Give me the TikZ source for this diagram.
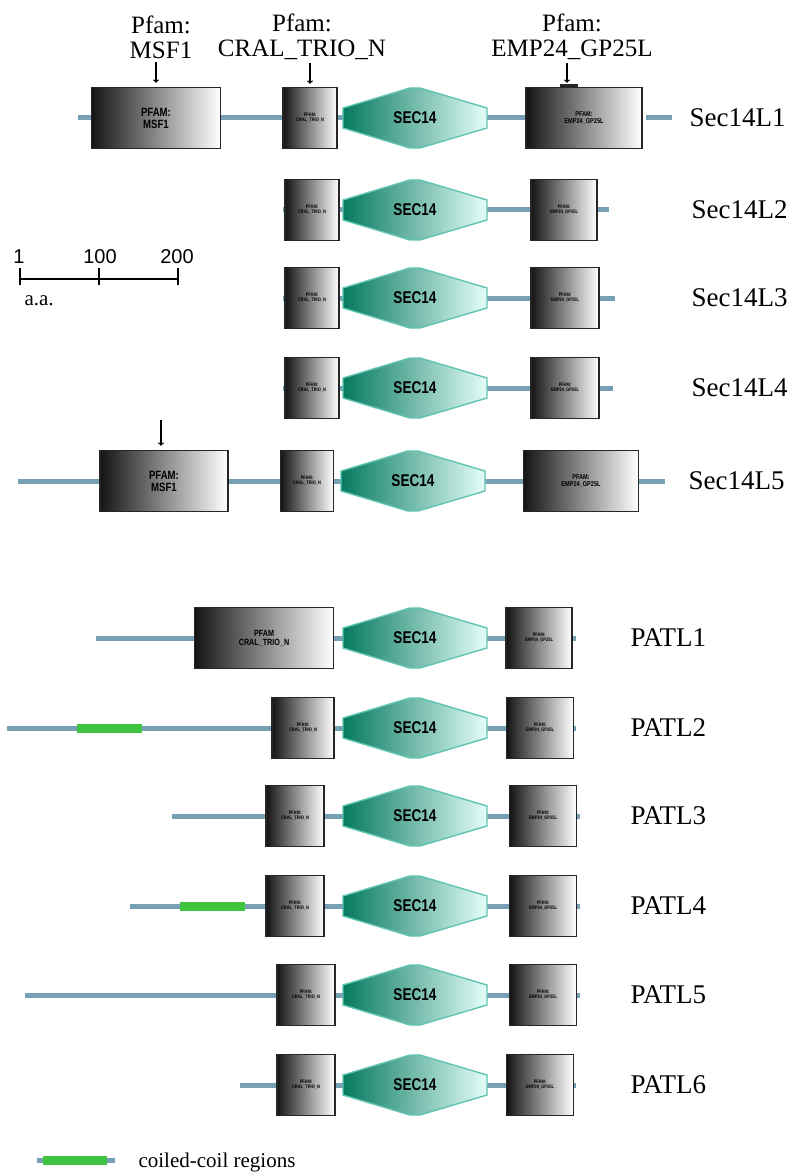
\documentclass[tikz,border=0pt]{standalone}
\usepackage{fontspec}
\setmainfont{Liberation Serif}
\newfontfamily\boxfont[FakeStretch=0.8]{Liberation Sans}
\newfontfamily\barfont{Liberation Sans}
\usetikzlibrary{shapes,backgrounds}

\definecolor{bbcol}{RGB}{118,160,180}
\definecolor{coilgreen}{RGB}{62,196,62}
\definecolor{hexdark}{RGB}{6,122,96}
\definecolor{hexlight}{RGB}{228,253,248}
\definecolor{hexedge}{RGB}{96,196,176}

\tikzset{
  backbone/.style={line width=5pt, color=bbcol},
  coil/.style={line width=9pt, color=coilgreen},
  pfambox/.style={rectangle, draw=black!85, line width=1.4pt, left color=black!92, right color=white,
    minimum height=61pt, inner sep=1pt, align=center, font=\boxfont\bfseries\fontsize{12}{12}\selectfont},
  smallbox/.style={pfambox, font=\boxfont\bfseries\fontsize{5}{5}\selectfont},
  hexfill/.style={draw=hexedge, line width=1.4pt, left color=hexdark, right color=hexlight},
  hexlabel/.style={inner sep=0pt, minimum width=145pt, minimum height=60pt,
    font=\boxfont\bfseries\fontsize{17}{17}\selectfont},
  rowlabel/.style={anchor=west, font=\fontsize{27}{27}\selectfont},
  pfamlabel/.style={align=center, font=\fontsize{25}{25}\selectfont},
}

% SEC14 hexagon: name, x, y
\newcommand{\sechex}[3]{%
  \shadedraw[hexfill] (#2-72,#3-10) -- (#2-5,#3-30) -- (#2+5,#3-30) -- (#2+72,#3-10)
    -- (#2+72,#3+10) -- (#2+5,#3+30) -- (#2-5,#3+30) -- (#2-72,#3+10) -- cycle;
  \node[hexlabel] (#1) at (#2,#3) {SEC14};
}

\begin{document}
\begin{tikzpicture}[x=1pt, y=-1pt]
      \useasboundingbox (0,0) rectangle (789,1174);

      % Pfam labels
      \node[pfamlabel] (pl1) at (161,37) {Pfam:\\MSF1};
      \node[pfamlabel] (pl2) at (302,37) {Pfam:\\CRAL\_TRIO\_N};
      \node[pfamlabel] (pl3) at (572,37) {Pfam:\\EMP24\_GP25L};

      % Scale
      \coordinate (t1) at (20,279);
      \coordinate (t100) at (99,279);
      \coordinate (t200) at (178,279);
      \draw[line width=1.2pt] (t1) -- (t200);
      \draw[line width=1.2pt] (t1) ++(0,-11) -- ++(0,17);
      \draw[line width=1.2pt] (t100) ++(0,-11) -- ++(0,17);
      \draw[line width=1.2pt] (t200) ++(0,-11) -- ++(0,17);
      \node[anchor=base, font=\barfont\fontsize{20}{20}\selectfont] (n1) at (19,263) {1};
      \node[anchor=base, font=\barfont\fontsize{20}{20}\selectfont] (n100) at (100,263) {100};
      \node[anchor=base, font=\barfont\fontsize{20}{20}\selectfont] (n200) at (177,263) {200};
      \node[anchor=base west, font=\fontsize{21}{21}\selectfont] (aa) at (21,305) {a.a.};

      % Sec14L1
      \node[pfambox, minimum width=129pt] (msf1) at (156,118) {PFAM:\\MSF1};
      \node[smallbox, minimum width=54pt] (cral1) at (310,118) {PFAM:\\CRAL\_TRIO\_N};
      \sechex{sec1}{415}{118}
      \node[smallbox, minimum width=116pt, font=\boxfont\bfseries\fontsize{7}{7}\selectfont] (emp1) at (584,118) {PFAM:\\EMP24\_GP25L};
      \node[rowlabel] (lab1) at (686,118) {Sec14L1};
      \coordinate (s1) at (78,118);
      \coordinate (a1) at (646,118);
      \coordinate (e1) at (672,118);
      \fill[black!85] ([xshift=-24pt]emp1.north) rectangle ++(18,-3);
      \draw[->, line width=1.2pt, shorten >=4pt] (pl1.south -| msf1.north) -- (msf1.north);
      \draw[->, line width=1.2pt, shorten >=3pt] (pl2.south -| cral1.north) -- (cral1.north);
      \draw[->, line width=1.2pt, shorten >=4pt] ([xshift=-17pt]pl3.south -| emp1.north) -- ([xshift=-17pt]emp1.north);

      % Sec14L2
      \node[smallbox, minimum width=54pt] (cral2) at (312,210) {PFAM:\\CRAL\_TRIO\_N};
      \sechex{sec2}{415}{210}
      \node[smallbox, minimum width=66pt] (emp2) at (564,210) {PFAM:\\EMP24\_GP25L};
      \node[rowlabel] (lab2) at (688,210) {Sec14L2};
      \coordinate (s2) at (283,210);
      \coordinate (e2) at (609,210);

      % Sec14L3
      \node[smallbox, minimum width=54pt] (cral3) at (312,298) {PFAM:\\CRAL\_TRIO\_N};
      \sechex{sec3}{415}{298}
      \node[smallbox, minimum width=68pt] (emp3) at (565,298) {PFAM:\\EMP24\_GP25L};
      \node[rowlabel] (lab3) at (688,298) {Sec14L3};
      \coordinate (s3) at (283,298);
      \coordinate (e3) at (615,298);

      % Sec14L4
      \node[smallbox, minimum width=54pt] (cral4) at (312,388) {PFAM:\\CRAL\_TRIO\_N};
      \sechex{sec4}{415}{388}
      \node[smallbox, minimum width=68pt] (emp4) at (565,388) {PFAM:\\EMP24\_GP25L};
      \node[rowlabel] (lab4) at (688,388) {Sec14L4};
      \coordinate (s4) at (283,388);
      \coordinate (e4) at (613,388);

      % Sec14L5
      \node[pfambox, minimum width=128pt] (msf5) at (164,481) {PFAM:\\MSF1};
      \node[smallbox, minimum width=53pt] (cral5) at (307,481) {PFAM:\\CRAL\_TRIO\_N};
      \sechex{sec5}{413}{481}
      \node[smallbox, minimum width=115pt, font=\boxfont\bfseries\fontsize{7}{7}\selectfont] (emp5) at (581,481) {PFAM:\\EMP24\_GP25L};
      \node[rowlabel] (lab5) at (685,481) {Sec14L5};
      \coordinate (s5) at (18,481);
      \coordinate (e5) at (665,481);
      \coordinate (ar5) at (161,420);
      \draw[->, line width=1.2pt, shorten >=4pt] (ar5) -- (ar5 |- msf5.north);

      % PATL1
      \node[pfambox, minimum width=139pt, font=\boxfont\bfseries\fontsize{9}{9}\selectfont] (cral6) at (264,638) {PFAM\\CRAL\_TRIO\_N};
      \sechex{sec6}{415}{638}
      \node[smallbox, minimum width=66pt] (emp6) at (539,638) {PFAM:\\EMP24\_GP25L};
      \node[rowlabel] (lab6) at (627,638) {PATL1};
      \coordinate (s6) at (96,638);
      \coordinate (e6) at (576,638);

      % PATL2
      \node[smallbox, minimum width=62pt] (cral7) at (303,728) {PFAM:\\CRAL\_TRIO\_N};
      \sechex{sec7}{415}{728}
      \node[smallbox, minimum width=67pt] (emp7) at (540,728) {PFAM:\\EMP24\_GP25L};
      \node[rowlabel] (lab7) at (627,728) {PATL2};
      \coordinate (s7) at (7,728);
      \coordinate (e7) at (576,728);
      \coordinate (c7a) at (77,728);
      \coordinate (c7b) at (142,728);

      % PATL3
      \node[smallbox, minimum width=58pt] (cral8) at (295,816) {PFAM:\\CRAL\_TRIO\_N};
      \sechex{sec8}{415}{816}
      \node[smallbox, minimum width=67pt] (emp8) at (543,816) {PFAM:\\EMP24\_GP25L};
      \node[rowlabel] (lab8) at (627,816) {PATL3};
      \coordinate (s8) at (172,816);
      \coordinate (e8) at (580,816);

      % PATL4
      \node[smallbox, minimum width=58pt] (cral9) at (295,906) {PFAM:\\CRAL\_TRIO\_N};
      \sechex{sec9}{415}{906}
      \node[smallbox, minimum width=67pt] (emp9) at (543,906) {PFAM:\\EMP24\_GP25L};
      \node[rowlabel] (lab9) at (627,906) {PATL4};
      \coordinate (s9) at (130,906);
      \coordinate (e9) at (580,906);
      \coordinate (c9a) at (180,906);
      \coordinate (c9b) at (245,906);

      % PATL5
      \node[smallbox, minimum width=58pt] (cral10) at (306,995) {PFAM:\\CRAL\_TRIO\_N};
      \sechex{sec10}{415}{995}
      \node[smallbox, minimum width=67pt] (emp10) at (543,995) {PFAM:\\EMP24\_GP25L};
      \node[rowlabel] (lab10) at (627,995) {PATL5};
      \coordinate (s10) at (25,995);
      \coordinate (e10) at (580,995);

      % PATL6
      \node[smallbox, minimum width=58pt] (cral11) at (306,1085) {PFAM:\\CRAL\_TRIO\_N};
      \sechex{sec11}{415}{1085}
      \node[smallbox, minimum width=67pt] (emp11) at (540,1085) {PFAM:\\EMP24\_GP25L};
      \node[rowlabel] (lab11) at (627,1085) {PATL6};
      \coordinate (s11) at (240,1085);
      \coordinate (e11) at (576,1085);

      % Legend
      \coordinate (lg1) at (37,1160);
      \coordinate (lg2) at (115,1160);
      \coordinate (lc1) at (43,1160);
      \coordinate (lc2) at (107,1160);
      \node[anchor=base west, font=\fontsize{21}{21}\selectfont] (lgtext) at (135,1167) {coiled-coil regions};

      % Backbones
      \begin{scope}[on background layer]
        \draw[backbone] (s1) -- (emp1.center);
        \draw[backbone] (a1) -- (e1);
        \draw[backbone] (s2) -- (e2);
        \draw[backbone] (s3) -- (e3);
        \draw[backbone] (s4) -- (e4);
        \draw[backbone] (s5) -- (e5);
        \draw[backbone] (s6) -- (e6);
        \draw[backbone] (s7) -- (e7);
        \draw[backbone] (s8) -- (e8);
        \draw[backbone] (s9) -- (e9);
        \draw[backbone] (s10) -- (e10);
        \draw[backbone] (s11) -- (e11);
        \draw[backbone] (lg1) -- (lg2);
        \draw[coil] (c7a) -- (c7b);
        \draw[coil] (c9a) -- (c9b);
        \draw[coil] (lc1) -- (lc2);
      \end{scope}
    \end{tikzpicture}
\end{document}
